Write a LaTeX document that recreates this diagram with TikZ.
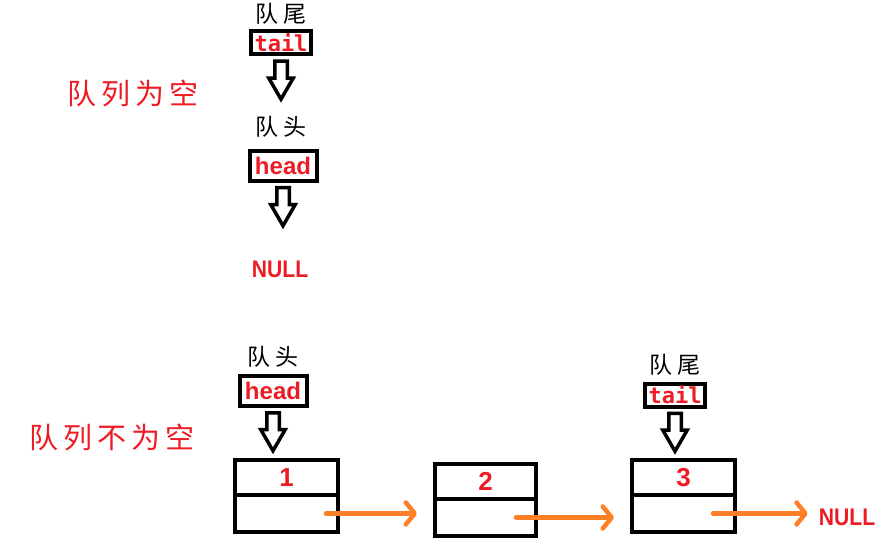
\documentclass[tikz,border=0pt]{standalone}
\usepackage{fontspec}
\setmainfont{Liberation Sans}
\newfontfamily\cjk[LetterSpace=18]{Noto Sans CJK SC}
\newfontfamily\mono{DejaVu Sans Mono}
\usetikzlibrary{shapes,arrows.meta,positioning,calc}
\definecolor{qred}{RGB}{237,28,36}
\definecolor{qorange}{RGB}{255,127,39}

\tikzset{
  ptrbox/.style={draw, line width=4pt, inner sep=1pt, outer sep=0pt, text=qred,
    font=\bfseries\fontsize{24}{24}\selectfont},
  tailbox/.style={ptrbox, font=\mono\bfseries\fontsize{22}{22}\selectfont,
    minimum width=60pt, minimum height=23pt},
  headbox/.style={ptrbox, minimum width=67pt, minimum height=30pt},
  qlabel/.style={font=\cjk\fontsize{23}{23}\selectfont, inner sep=0pt},
  qtitle/.style={font=\cjk\fontsize{29}{29}\selectfont, text=qred},
  nulltext/.style={text=qred, font=\bfseries\fontsize{24}{24}\selectfont, xscale=0.88},
  downarrow/.style={single arrow, draw, line width=3.5pt, shape border rotate=270,
    minimum height=38pt, inner sep=4.5pt, single arrow head extend=6pt,
    single arrow tip angle=60},
  datapart/.style={draw, line width=4pt, outer sep=0pt, minimum width=103pt,
    minimum height=35pt, text=qred, font=\bfseries\fontsize{26}{26}\selectfont},
  nextpart/.style={draw, line width=4pt, outer sep=0pt, minimum width=103pt,
    minimum height=37pt},
  nextarrow/.style={draw=qorange, line width=4.5pt, line cap=round,
    -{Straight Barb[length=9pt,width=22pt,round]}}
}

\begin{document}
\begin{tikzpicture}[x=1pt,y=-1pt]
\useasboundingbox (0,0) rectangle (891,548);

% empty queue
\node[qtitle] (empty) at (133,93) {队列为空};
\node[tailbox] (tb1) at (281,43) {tail};
\node[qlabel, above=7pt of tb1] (tl1) {队尾};
\node[downarrow, below=5pt of tb1] (a1) {};
\node[qlabel] (hl1) at (281,127) {队头};
\node[headbox] (hb1) at (283,166) {head};
\node[downarrow, below=5pt of hb1] (a2) {};
\node[nulltext] (nl1) at (280,269) {NULL};

% non-empty queue
\node[qtitle] (full) at (112,437) {队列不为空};
\node[headbox] (hb2) at (273,391) {head};
\node[qlabel, above=8pt of hb2] (hl2) {队头};
\node[downarrow, below=5pt of hb2] (a3) {};

\node[datapart] (n1a) at (286.5,477.5) {1};
\node[nextpart, below=0pt of n1a] (n1b) {};
\node[datapart, minimum width=101pt] (n2a) at (485.5,481.5) {2};
\node[nextpart, minimum width=101pt, below=0pt of n2a] (n2b) {};
\node[datapart] (n3a) at (683.5,477.5) {3};
\node[nextpart, below=0pt of n3a] (n3b) {};

\node[tailbox] (tb2) at (675,395) {tail};
\node[qlabel, above=8pt of tb2] (tl2) {队尾};
\node[downarrow, below=5pt of tb2] (a4) {};

\node[nulltext] (nl2) at (847,517) {NULL};

\draw[nextarrow] ([xshift=-12pt]n1b.east) -- ([xshift=-18pt]n1b.east -| n2b.west);
\draw[nextarrow] ([xshift=-20pt]n2b.east) -- ([xshift=-18pt]n2b.east -| n3b.west);
\draw[nextarrow] ([xshift=-22pt]n3b.east) -- ($(n3b.east -| nl2.west)+(-8pt,0)$);
\end{tikzpicture}
\end{document}
